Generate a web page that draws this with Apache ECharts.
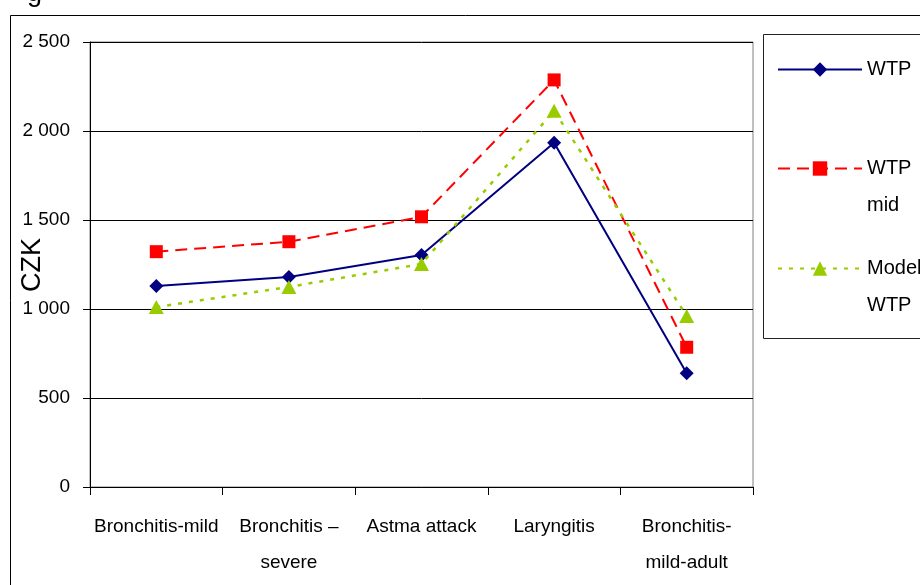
<!DOCTYPE html>
<html>
<head>
<meta charset="utf-8">
<script src="https://cdn.jsdelivr.net/npm/echarts@6/dist/echarts.min.js"></script>
<style>
html,body{margin:0;padding:0;background:#fff;}
#chart{width:920px;height:585px;}
</style>
</head>
<body>
<div id="chart"></div>
<script>
const categories = ['Bronchitis-mild', 'Bronchitis –\nsevere', 'Astma attack', 'Laryngitis', 'Bronchitis-\nmild-adult'];
const wtp = [1129, 1180, 1303, 1934, 639];
const wtpMid = [1322, 1378, 1518, 2287, 785];
const modelWtp = [1011, 1124, 1253, 2114, 961];
const yTicks = { min: 0, max: 2500, interval: 500 };

const FONT = '"Liberation Sans", Arial, sans-serif';
const chart = echarts.init(document.getElementById('chart'), null, { renderer: 'canvas' });

function fmt(v) {
  return String(v).replace(/\B(?=(\d{3})+(?!\d))/g, ' ');
}

const legendCommon = {
  orient: 'vertical',
  left: 777,
  itemWidth: 84,
  itemHeight: 18,
  itemGap: 0,
  padding: 0,
  selectedMode: false,
  textStyle: { fontFamily: FONT, fontSize: 20, color: '#000', lineHeight: 37 }
};

chart.setOption({
  backgroundColor: '#fff',
  animation: false,
  graphic: [
    { type: 'rect', shape: { x: 10.5, y: 15.5, width: 1000, height: 1000 }, style: { fill: 'none', stroke: '#000', lineWidth: 1 }, silent: true },
    { type: 'rect', shape: { x: 763.5, y: 34.5, width: 300, height: 304 }, style: { fill: 'none', stroke: '#222', lineWidth: 1 }, silent: true },
    { type: 'text', x: 27, y: -20, style: { text: 'g', font: '27px "Liberation Sans", Arial, sans-serif', fill: '#000' }, silent: true },
    { type: 'text', x: 33, y: 265, rotation: Math.PI / 2, style: { text: 'CZK', font: '27px "Liberation Sans", Arial, sans-serif', fill: '#000', textAlign: 'center', textVerticalAlign: 'middle' }, silent: true }
  ],
  legend: [
    Object.assign({}, legendCommon, { top: 51, data: [{ name: 'WTP' }] }),
    Object.assign({}, legendCommon, { top: 113, data: [{ name: 'WTP mid' }], formatter: () => ' \nWTP\nmid' }),
    Object.assign({}, legendCommon, { top: 213, data: [{ name: 'Model WTP' }], formatter: () => ' \nModel\nWTP' })
  ],
  grid: {
    left: 90, right: 167, top: 42, bottom: 98,
    show: true, borderColor: '#808080', borderWidth: 1, backgroundColor: 'transparent'
  },
  xAxis: {
    type: 'category',
    data: categories,
    boundaryGap: true,
    axisLine: { show: true, lineStyle: { color: '#000', width: 1 } },
    axisTick: { show: true, length: 8, alignWithLabel: false, lineStyle: { color: '#000' } },
    axisLabel: { interval: 0, margin: 22, fontFamily: FONT, fontSize: 19, color: '#000', lineHeight: 36 },
    splitLine: { show: false }
  },
  yAxis: {
    type: 'value',
    min: yTicks.min, max: yTicks.max, interval: yTicks.interval,
    axisLine: { show: true, lineStyle: { color: '#000', width: 1 } },
    axisTick: { show: true, length: 7, lineStyle: { color: '#000' } },
    axisLabel: { margin: 20, fontFamily: FONT, fontSize: 19, color: '#000', formatter: fmt },
    splitLine: { show: true, lineStyle: { color: '#000', width: 1 } }
  },
  series: [
    {
      name: 'WTP', type: 'line', data: wtp,
      symbol: 'diamond', symbolSize: 14,
      itemStyle: { color: '#000080' },
      lineStyle: { color: '#000080', width: 2, type: 'solid' },
      z: 3
    },
    {
      name: 'WTP mid', type: 'line', data: wtpMid,
      symbol: 'rect', symbolSize: 13,
      itemStyle: { color: '#FF0000' },
      lineStyle: { color: '#FF0000', width: 2, type: [12, 7] },
      z: 2
    },
    {
      name: 'Model WTP', type: 'line', data: modelWtp,
      symbol: 'triangle', symbolSize: [15, 14],
      itemStyle: { color: '#99CC00' },
      lineStyle: { color: '#99CC00', width: 2.5, type: [4, 7] },
      z: 4
    }
  ]
});
</script>
</body>
</html>
